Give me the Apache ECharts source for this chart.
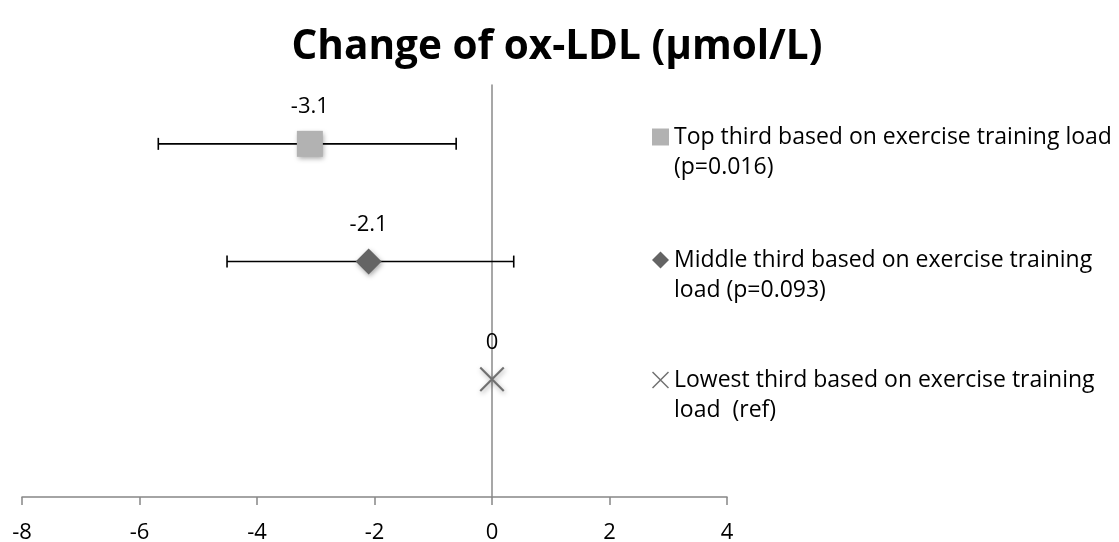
<!DOCTYPE html>
<html>
<head>
<meta charset="utf-8">
<script src="https://cdn.jsdelivr.net/npm/echarts@6/dist/echarts.min.js"></script>
<style>html,body{margin:0;padding:0;background:#fff}#c{width:1119px;height:542px}</style>
</head>
<body>
<div id="c"></div>
<script>
var seriesNames = [
  'Top third based on exercise training load (p=0.016)',
  'Middle third based on exercise training load (p=0.093)',
  'Lowest third based on exercise training load  (ref)'
];
var legendLines = [
  ['Top third based on exercise training load', '(p=0.016)'],
  ['Middle third based on exercise training', 'load (p=0.093)'],
  ['Lowest third based on exercise training', 'load  (ref)']
];
var estimates = [-3.1, -2.1, 0];
var ciLower = [-5.68, -4.51, null];
var ciUpper = [-0.61, 0.37, null];
var rowPos = [3, 2, 1];
var xTicks = [-8, -6, -4, -2, 0, 2, 4];

var FONT = '"Open Sans", "Noto Sans", sans-serif';
var XPATH = 'path://M0,6L6,0L100,94L94,100Z M94,0L100,6L6,100L0,94Z';
var symbols = ['rect', 'diamond', XPATH];
var colors = ['#b2b2b2', '#646464', '#707070'];
var sizes = [26, 26, 25];
var legendIcons = ['rect', 'diamond', XPATH];
var legendTops = [92, 215, 335];

var chart = echarts.init(document.getElementById('c'), null, {renderer: 'canvas'});

var series = [];
var errData = [];
for (var i = 0; i < estimates.length; i++) {
  if (ciLower[i] != null) errData.push([ciLower[i], ciUpper[i], rowPos[i]]);
}
series.push({
  type: 'custom',
  name: 'ci',
  silent: true,
  z: 1,
  data: errData,
  encode: {x: [0, 1], y: 2},
  renderItem: function (params, api) {
    var a = api.coord([api.value(0), api.value(2)]);
    var b = api.coord([api.value(1), api.value(2)]);
    var h = 6;
    var st = {stroke: '#000', lineWidth: 1.6};
    return {
      type: 'group',
      children: [
        {type: 'line', shape: {x1: a[0], y1: a[1], x2: b[0], y2: b[1]}, style: st},
        {type: 'line', shape: {x1: a[0], y1: a[1] - h, x2: a[0], y2: a[1] + h}, style: st},
        {type: 'line', shape: {x1: b[0], y1: b[1] - h, x2: b[0], y2: b[1] + h}, style: st}
      ]
    };
  }
});
for (var j = 0; j < estimates.length; j++) {
  series.push({
    type: 'scatter',
    name: seriesNames[j],
    z: 3,
    symbol: symbols[j],
    symbolSize: sizes[j],
    itemStyle: {
      color: colors[j], opacity: 1,
      shadowBlur: 5, shadowColor: 'rgba(0,0,0,0.35)', shadowOffsetX: 1, shadowOffsetY: 2
    },
    label: {
      show: true, position: 'inside', offset: [0, -37],
      formatter: function (p) { return String(p.value[0]); },
      color: '#000', fontSize: 22, fontFamily: FONT
    },
    data: [[estimates[j], rowPos[j]]]
  });
}

var legends = [];
for (var k = 0; k < seriesNames.length; k++) {
  (function (k) {
    legends.push({
      show: true,
      data: [{name: seriesNames[k], icon: legendIcons[k]}],
      left: 652,
      top: legendTops[k],
      orient: 'vertical',
      itemWidth: 17,
      itemHeight: 17,
      itemGap: 0,
      padding: 0,
      selectedMode: false,
      formatter: function () { return '\n' + legendLines[k][0] + '\n' + legendLines[k][1]; },
      textStyle: {
        fontFamily: FONT, fontSize: 23, color: '#000', lineHeight: 30
      }
    });
  })(k);
}

chart.setOption({
  animation: false,
  backgroundColor: '#fff',
  title: {
    text: 'Change of ox-LDL (\u00b5mol/L)',
    left: 552, top: 22, textAlign: 'center',
    textStyle: {fontFamily: FONT, fontSize: 40.5, fontWeight: 'bold', color: '#000'}
  },
  legend: legends,
  grid: {left: 22, right: 392, top: 85, bottom: 45, containLabel: false, outerBoundsMode: 'none'},
  xAxis: {
    type: 'value', min: -8, max: 4, interval: 2,
    axisLine: {show: true, onZero: false, lineStyle: {color: '#868686', width: 1.5}},
    axisTick: {show: true, inside: false, length: 8, lineStyle: {color: '#868686', width: 1.5}},
    splitLine: {show: false},
    axisLabel: {
      margin: 25, color: '#000', fontSize: 22, fontFamily: FONT,
      formatter: function (v) { return xTicks.indexOf(v) >= 0 ? String(v) : ''; }
    }
  },
  yAxis: {
    type: 'value', min: 0, max: 3.5,
    axisLine: {show: true, onZero: true, lineStyle: {color: '#8a8a8a', width: 1.5}},
    axisTick: {show: false},
    axisLabel: {show: false},
    splitLine: {show: false}
  },
  series: series
});
</script>
</body>
</html>
